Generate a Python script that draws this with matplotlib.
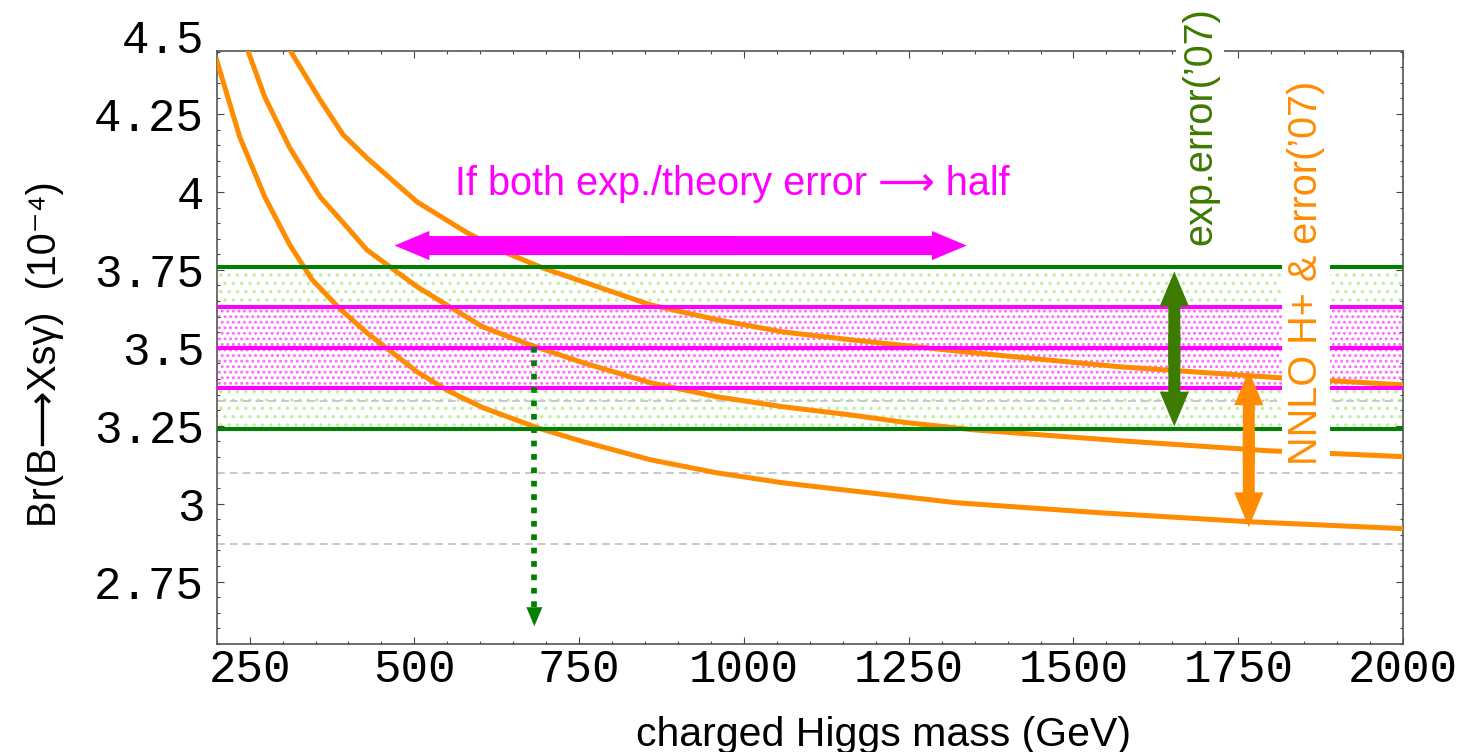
import matplotlib
matplotlib.use('Agg')
import matplotlib.pyplot as plt
import matplotlib.transforms as mtransforms
from matplotlib.patches import FancyArrowPatch
from matplotlib.ticker import MultipleLocator

plt.rcParams['hatch.linewidth'] = 1.3

SANS = ['Liberation Sans', 'DejaVu Sans']
MONO = 'Liberation Mono'
ORANGE = '#ff8c00'
MAGENTA = '#ff00ff'
GREEN = '#008000'
OLIVE = '#3d7a00'

# charged Higgs mass (GeV) and Br(B->Xs gamma) (1e-4) for the three NNLO curves
mh_low = [200, 235, 273, 311, 345, 387, 428, 504, 554, 604, 686, 756, 858, 959,
          1059, 1161, 1323, 1540, 1768, 2000]
br_low = [4.423, 4.176, 3.984, 3.830, 3.718, 3.625, 3.548, 3.423, 3.359, 3.308,
          3.244, 3.199, 3.141, 3.099, 3.067, 3.042, 3.003, 2.971, 2.942, 2.920]

mh_mid = [247, 273, 311, 357, 392, 428, 504, 554, 604, 675, 756, 858, 959, 1059,
          1161, 1247, 1348, 1571, 1794, 2000]
br_mid = [4.455, 4.304, 4.141, 3.984, 3.901, 3.814, 3.696, 3.631, 3.567, 3.510,
          3.452, 3.388, 3.343, 3.311, 3.285, 3.260, 3.237, 3.202, 3.170, 3.151]

mh_high = [311, 357, 392, 428, 504, 580, 640, 695, 858, 959, 1059, 1161, 1348,
           1571, 1813, 2000]
br_high = [4.455, 4.295, 4.183, 4.109, 3.968, 3.869, 3.804, 3.756, 3.638, 3.590,
           3.551, 3.526, 3.484, 3.439, 3.404, 3.381]

# experimental band ('07) and halved-error band
exp_band = [3.24, 3.76]
half_lines = [3.37, 3.50, 3.63]
sm_dashed = [3.33, 3.10, 2.87]

x_ticks = [250, 500, 750, 1000, 1250, 1500, 1750, 2000]
y_ticks = [2.75, 3.0, 3.25, 3.5, 3.75, 4.0, 4.25]
y_ticklabels = ['2.75', '3', '3.25', '3.5', '3.75', '4', '4.25']

fig = plt.figure(figsize=(14.63, 7.52), dpi=100)
ax = fig.add_axes([0.1481, 0.1436, 0.8109, 0.7886])
ax.set_xlim(200, 2000)
ax.set_ylim(2.55, 4.452)

# bands
ax.fill_between([200, 2000], exp_band[0], exp_band[1], facecolor='none',
                edgecolor='#bdf0a0', hatch='..', linewidth=0, zorder=1)
ax.fill_between([200, 2000], half_lines[0], half_lines[2], facecolor='white',
                edgecolor='#ff66ff', hatch='...', linewidth=0, zorder=1.2)

for y in sm_dashed:
    ax.axhline(y, color='#c8c8c8', lw=1.4, ls=(0, (4, 2.6)), zorder=2)

# curves
for mh, br in [(mh_low, br_low), (mh_mid, br_mid), (mh_high, br_high)]:
    ax.plot(mh, br, color=ORANGE, lw=3.6, solid_joinstyle='miter', zorder=3)

for y in exp_band:
    ax.axhline(y, color=GREEN, lw=2.9, zorder=4)
for y in half_lines:
    ax.axhline(y, color=MAGENTA, lw=2.9, zorder=4)


def double_arrow(x0, y0, x1, y1, color, tail, head_w, head_l):
    style = 'simple,head_length=%g,head_width=%g,tail_width=%g' % (head_l, head_w, tail)
    # two overlapping single-headed halves, so no seam in the middle
    for (xs, ys), (xe, ye) in [((x0 + 0.6 * (x1 - x0), y0 + 0.6 * (y1 - y0)), (x0, y0)),
                               ((x0 + 0.4 * (x1 - x0), y0 + 0.4 * (y1 - y0)), (x1, y1))]:
        ax.add_patch(FancyArrowPatch((xs, ys), (xe, ye), arrowstyle=style,
                                     mutation_scale=1, shrinkA=0, shrinkB=0,
                                     color=color, lw=0, zorder=5))


double_arrow(470, 3.828, 1338, 3.828, MAGENTA, 13.7, 21, 25)
double_arrow(1653, 3.745, 1653, 3.248, OLIVE, 8.6, 21, 25)
double_arrow(1766, 3.427, 1766, 2.925, ORANGE, 8.6, 21, 25)

# dotted drop line to the mass axis
ax.plot([682, 682], [3.504, 2.668], color=GREEN, lw=4.1, ls=(0, (1, 1.35)),
        dash_capstyle='butt', zorder=5)
ax.add_patch(FancyArrowPatch((682, 2.67), (682, 2.607),
                             arrowstyle='simple,head_length=13.7,head_width=11.5,tail_width=0.1',
                             mutation_scale=1, shrinkA=0, shrinkB=0, color=GREEN,
                             lw=0, zorder=5))

# annotations
ax.text(983, 3.99, 'If both exp./theory error \u27f6 half', color=MAGENTA,
        fontsize=28.5, family=SANS, ha='center', va='baseline', zorder=6)
ax.text(1692, 4.21, 'exp.error(\u201907)', color=OLIVE, fontsize=28.5, family=SANS,
        rotation=90, ha='center', va='center', zorder=6, clip_on=False,
        bbox=dict(boxstyle='square,pad=0.12', fc='white', ec='none'))
ax.text(1853, 3.74, 'NNLO H+ & error(\u201907)', color=ORANGE, fontsize=28.5,
        family=SANS, rotation=90, ha='center', va='center', zorder=6, clip_on=False,
        bbox=dict(boxstyle='square,pad=0.12', fc='white', ec='none'))

# frame and ticks
ax.set_xticks(x_ticks)
ax.set_xticklabels([str(v) for v in x_ticks])
ax.set_yticks(y_ticks)
ax.set_yticklabels(y_ticklabels)
ax.xaxis.set_minor_locator(MultipleLocator(50))
ax.yaxis.set_minor_locator(MultipleLocator(0.05))
ax.tick_params(which='both', direction='in', top=True, right=True,
               color='#444444', width=0.8)
ax.tick_params(which='major', length=5)
ax.tick_params(which='minor', length=2.4)
ax.tick_params(axis='x', pad=3, labelsize=33)
ax.tick_params(axis='y', pad=9, labelsize=33)
for lab in ax.get_xticklabels() + ax.get_yticklabels():
    lab.set_family(MONO)
for sp in ax.spines.values():
    sp.set_color('#555555')
    sp.set_linewidth(1.2)

# 4.5 sits above the frame
blend = mtransforms.blended_transform_factory(ax.transAxes, ax.transData)
ax.annotate('4.5', xy=(0, 4.5), xycoords=blend, xytext=(-9, 0),
            textcoords='offset points', ha='right', va='center_baseline',
            fontsize=33, family=MONO, annotation_clip=False)

ax.set_xlabel('charged Higgs mass (GeV)', fontsize=29.5, family=SANS)
ax.xaxis.label.set_va('center')
ax.xaxis.set_label_coords(0.5625, -0.1535)
ax.set_ylabel('Br(B\u27f6Xs\u03b3)  (10\u207b\u2074)', fontsize=28.5, family=SANS)
ax.yaxis.label.set_va('center')
ax.yaxis.set_label_coords(-0.1447, 0.489)

fig.savefig('out.png', dpi=100)
